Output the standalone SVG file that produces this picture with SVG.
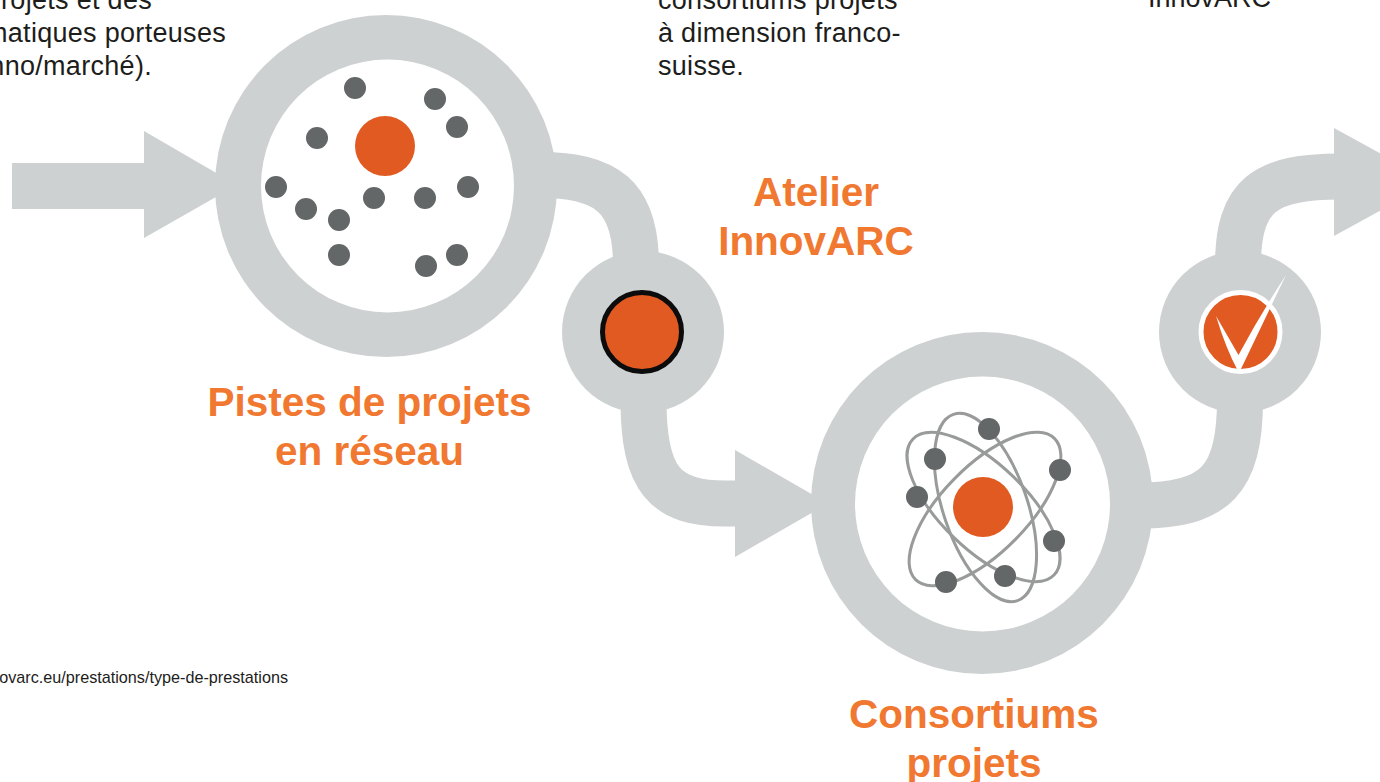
<svg xmlns="http://www.w3.org/2000/svg" width="1380" height="782" viewBox="0 0 1380 782">
<style>
.band{fill:none;stroke:#cdd1d2;stroke-width:46}
.head{fill:#cdd1d2}
.disc{fill:#cdd1d2}
.hole{fill:#fff}
.core{fill:#e05a22}
.dot{fill:#636768}
.orbit{fill:none;stroke:#999b9b;stroke-width:3}
.body{font-family:"Liberation Sans",Arial,sans-serif;font-size:27px;letter-spacing:.3px;fill:#1d1d1b}
.title{font-family:"Liberation Sans",Arial,sans-serif;font-size:40.500px;font-weight:700;fill:#f07830;text-anchor:middle}
.small{font-family:"Liberation Sans",Arial,sans-serif;font-size:16.200px;fill:#1d1d1b}
</style>
<rect width="1380" height="782" fill="#fff"/>
<g id="connectors">
<path class="band" d="M12 186H150"/>
<path class="head" d="M144 131L237 185L144 238Z"/>
<path class="band" d="M540 175C605 175 636 195 636 265"/>
<path class="band" d="M643.500 400C643.500 480 665 503.500 725 503.500H740"/>
<path class="head" d="M735 450L828 503.500L735 557Z"/>
<path class="band" d="M1140 505.500C1215 505.500 1240 480 1240 400"/>
<path class="band" d="M1238 265C1238 195 1265 176.500 1340 176.500"/>
<path class="head" d="M1334 128L1432 182L1334 236Z"/>
</g>
<g id="node-pistes">
<circle class="disc" cx="386" cy="186" r="171"/>
<circle class="hole" cx="387.500" cy="186" r="126.500"/>
<circle class="core" cx="385" cy="146" r="30"/>
<g class="dot">
<circle cx="355" cy="88" r="11"/><circle cx="435" cy="99" r="11"/><circle cx="457" cy="127" r="11"/><circle cx="317" cy="138" r="11"/><circle cx="276" cy="187" r="11"/><circle cx="468" cy="187" r="11"/><circle cx="374" cy="198" r="11"/><circle cx="425" cy="198" r="11"/><circle cx="306" cy="209" r="11"/><circle cx="339" cy="220" r="11"/><circle cx="339" cy="255" r="11"/><circle cx="426" cy="266" r="11"/><circle cx="457" cy="255" r="11"/>
</g>
<text class="title" x="369.500" y="416">Pistes de projets</text>
<text class="title" x="369.500" y="465">en réseau</text>
</g>
<g id="node-atelier">
<circle class="disc" cx="643" cy="332" r="81"/>
<circle class="core" cx="642" cy="332" r="39.500" stroke="#0c0c0c" stroke-width="5"/>
<text class="title" x="816" y="206">Atelier</text>
<text class="title" x="816" y="255">InnovARC</text>
</g>
<g id="node-consortiums">
<circle class="disc" cx="982" cy="503" r="171"/>
<circle class="hole" cx="982.500" cy="504" r="127.500"/>
<ellipse class="orbit" cx="983.500" cy="507" rx="98" ry="42.500" transform="rotate(44 983.500 507)"/>
<ellipse class="orbit" cx="985" cy="509" rx="99" ry="43" transform="rotate(-45.500 985 509)"/>
<ellipse class="orbit" cx="985.500" cy="507.500" rx="98.500" ry="42" transform="rotate(71 985.500 507.500)"/>
<circle class="core" cx="983" cy="507" r="30"/>
<g class="dot">
<circle cx="989" cy="429" r="11"/><circle cx="935" cy="459" r="11"/><circle cx="1060" cy="470" r="11"/><circle cx="917" cy="497" r="11"/><circle cx="1054" cy="541" r="11"/><circle cx="1005" cy="576" r="11"/><circle cx="946" cy="582" r="11"/>
</g>
<text class="title" x="974" y="728">Consortiums</text>
<text class="title" x="974" y="777">projets</text>
</g>
<g id="node-validation">
<circle class="disc" cx="1240" cy="332" r="81"/>
<circle class="core" cx="1240.500" cy="332" r="39.500" stroke="#fff" stroke-width="5"/>
<path fill="#fff" d="M1216 316Q1226 349 1238 371L1240 371Q1262 325 1286 275Q1260 315 1238.500 355Q1227 335 1216 316Z"/>
</g>
<g id="notes">
<text class="body" text-anchor="end" x="152" y="9">projets et des</text>
<text class="body" text-anchor="end" x="226" y="42">matiques porteuses</text>
<text class="body" text-anchor="end" x="152" y="75">nno/marché).</text>
<text class="body" x="658" y="9">consortiums projets</text>
<text class="body" x="658" y="42">à dimension franco-</text>
<text class="body" x="658" y="75">suisse.</text>
<text class="body" x="1148" y="7" style="letter-spacing:0">InnovARC</text>
<text class="small" text-anchor="end" x="288" y="683">ovarc.eu/prestations/type-de-prestations</text>
</g>
</svg>
